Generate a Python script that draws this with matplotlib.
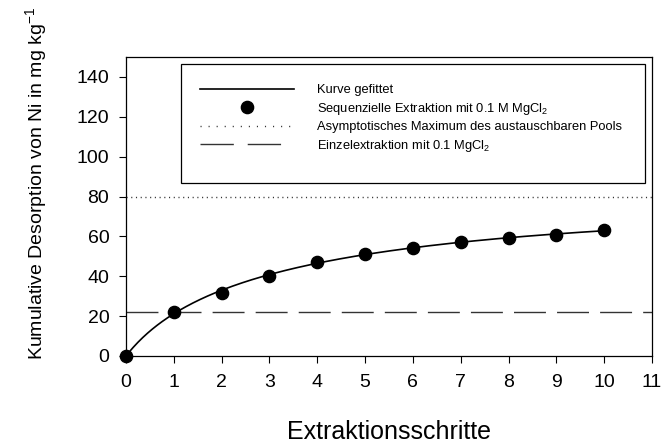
import numpy as np
import matplotlib
matplotlib.use("Agg")
import matplotlib.pyplot as plt
from matplotlib.lines import Line2D
from matplotlib.patches import Rectangle

plt.rcParams['font.family'] = ['Liberation Sans', 'DejaVu Sans']
plt.rcParams['mathtext.fontset'] = 'custom'
plt.rcParams['mathtext.rm'] = 'Liberation Sans'
plt.rcParams['mathtext.it'] = 'Liberation Sans:italic'
plt.rcParams['mathtext.bf'] = 'Liberation Sans:bold'
plt.rcParams['lines.scale_dashes'] = False

# ---- data ----
steps = [0, 1, 2, 3, 4, 5, 6, 7, 8, 9, 10]
cumulative_ni = [0.0, 22.2, 31.8, 40.3, 47.3, 51.2, 54.3, 57.2, 59.3, 60.8, 63.0]
asymptotic_max = 80.0
single_extraction = 22.2
x_ticks = list(range(0, 12))
y_ticks = [0, 20, 40, 60, 80, 100, 120, 140]

labels = ["Kurve gefittet",
          "Sequenzielle Extraktion mit 0.1 M MgCl$_2$",
          "Asymptotisches Maximum des austauschbaren Pools",
          "Einzelextraktion mit 0.1 MgCl$_2$"]

# smooth least-squares fit of the measured points (basis in ln(1+x), no intercept)
xa = np.asarray(steps, float)
ya = np.asarray(cumulative_ni, float)
L = np.log1p(xa)
A = np.column_stack([L, L**2, L**3])
coef, *_ = np.linalg.lstsq(A, ya, rcond=None)
xs = np.linspace(xa[0], xa[-1], 400)
Ls = np.log1p(xs)
fit = np.column_stack([Ls, Ls**2, Ls**3]) @ coef

fig = plt.figure(figsize=(6.66, 4.46), dpi=100)
ax = fig.add_axes([126 / 666, 90 / 446, 526 / 666, 299 / 446])

ax.plot(xs, fit, color='black', lw=1.2, zorder=3)
ax.plot(steps, cumulative_ni, 'o', color='black', ms=8.8, clip_on=False, zorder=4)
ax.axhline(asymptotic_max, color='#333333', lw=1.0, dashes=(0.8, 2.6))
ax.axhline(single_extraction, color='#333333', lw=1.0, dashes=(23, 8))

ax.set_xlim(0, 11)
ax.set_ylim(0, 150)
ax.set_xticks(x_ticks)
ax.set_yticks(y_ticks)
ax.tick_params(direction='out', length=5, width=0.8, labelsize=14, colors='black')
ax.tick_params(axis='x', pad=8)
ax.tick_params(axis='y', pad=7)
for s in ax.spines.values():
    s.set_linewidth(0.9)

xl = ax.set_xlabel("Extraktionsschritte", fontsize=18)
ax.xaxis.set_label_coords(0.5, (356 - 439) / 299)
xl.set_va('baseline')
yl = ax.set_ylabel("Kumulative Desorption von Ni in mg kg$^{-1}$", fontsize=14)
ax.yaxis.set_label_coords((36 - 126) / 526, (356 - 183) / 299)
yl.set_va('center')
yl.set_ha('center')

# legend box
ax.add_patch(Rectangle((55 / 526, (356 - 183) / 299), 464 / 526, 119 / 299,
                       transform=ax.transAxes, fill=True, facecolor='white',
                       edgecolor='black', lw=0.9, zorder=5))

handles = [Line2D([], [], color='black', lw=1.2),
           Line2D([], [], ls='none', marker='o', color='black', ms=8.8),
           Line2D([], [], color='#333333', lw=1.0, dashes=(0.8, 5.0)),
           Line2D([], [], color='#333333', lw=1.0, dashes=(24, 10, 24, 40))]
leg = ax.legend(handles, labels, loc='upper left',
                bbox_to_anchor=((200 - 126) / 526, (356 - 84) / 299),
                fontsize=9.3, handlelength=7.3, handletextpad=1.75, labelspacing=0.35,
                borderpad=0, borderaxespad=0, frameon=False)
leg.set_zorder(6)

fig.savefig("out.png", dpi=100)
